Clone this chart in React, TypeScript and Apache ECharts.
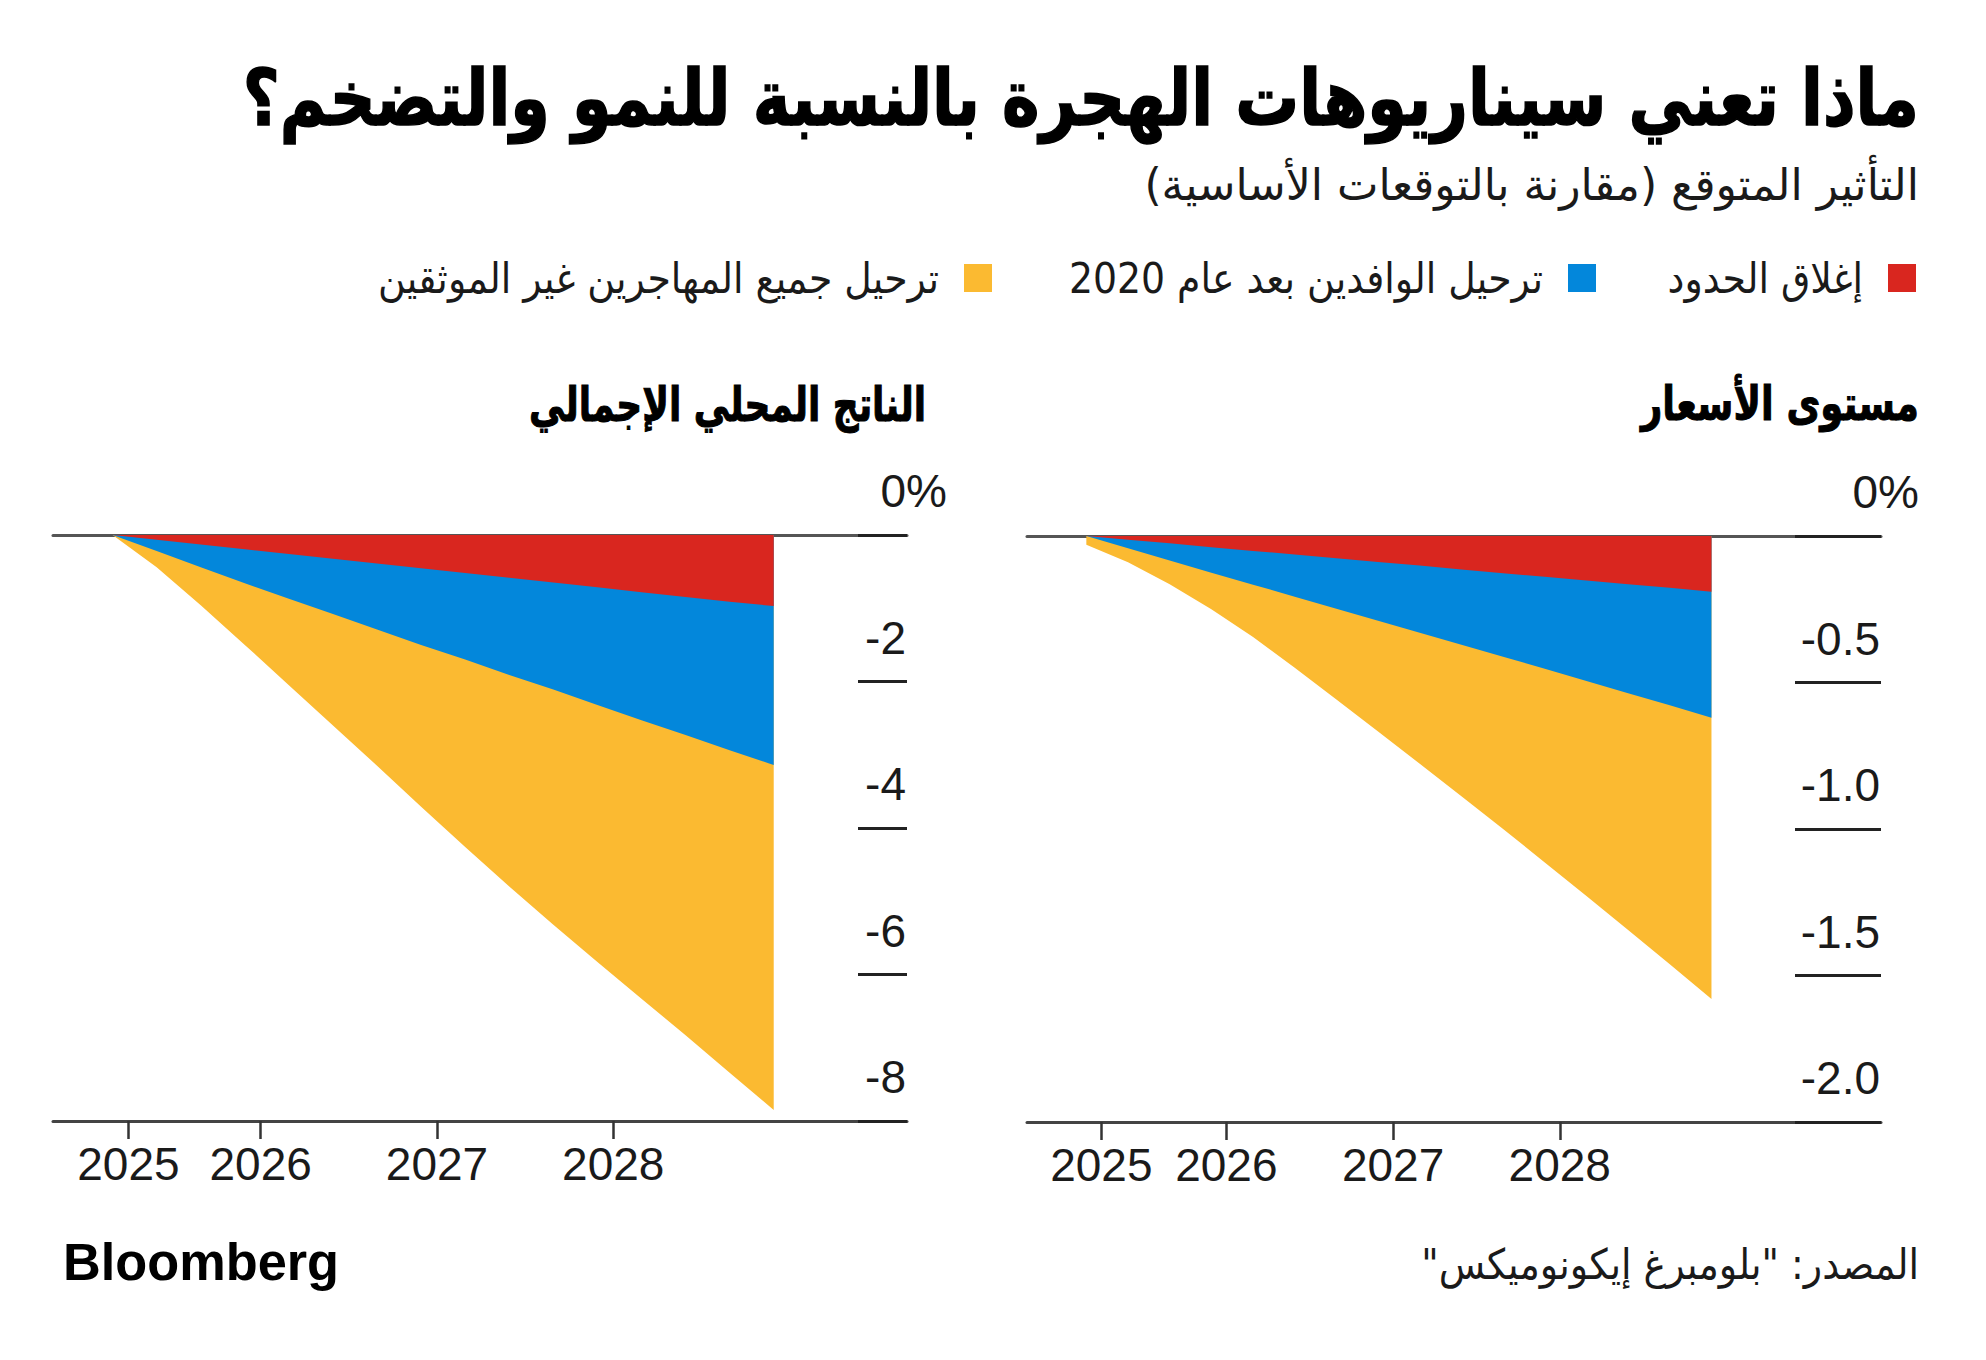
import React, { useEffect, useRef } from 'react';
import * as echarts from 'echarts';

// ---------- data ----------
// x positions (decimal years) of the quarterly points, 2025 Q1 .. 2028 Q4
const X_POS = [
  2025.16, 2025.41, 2025.66, 2025.91,
  2026.16, 2026.41, 2026.66, 2026.91,
  2027.16, 2027.41, 2027.66, 2027.91,
  2028.16, 2028.41, 2028.66, 2028.91,
];
const YEAR_TICKS = [2025.25, 2026, 2027, 2028];

const NAME_BORDER = 'إغلاق الحدود';
const NAME_POST2020 = 'ترحيل الوافدين بعد عام 2020';
const NAME_ALL = 'ترحيل جميع المهاجرين غير الموثقين';

// GDP impact (% vs baseline)
const GDP_BORDER = [0, -0.065, -0.13, -0.195, -0.26, -0.325, -0.39, -0.455, -0.52, -0.585, -0.65, -0.715, -0.78, -0.845, -0.91, -0.97];
const GDP_POST2020 = [0, -0.22, -0.44, -0.66, -0.87, -1.08, -1.29, -1.5, -1.7, -1.91, -2.11, -2.32, -2.53, -2.73, -2.94, -3.14];
const GDP_ALL = [0, -0.44, -0.96, -1.5, -2.05, -2.6, -3.15, -3.71, -4.26, -4.8, -5.32, -5.83, -6.33, -6.83, -7.34, -7.85];

// Price level impact (% vs baseline)
const PRICE_BORDER = [0, -0.013, -0.025, -0.038, -0.051, -0.063, -0.076, -0.089, -0.101, -0.114, -0.127, -0.139, -0.152, -0.165, -0.177, -0.19];
const PRICE_POST2020 = [0, -0.042, -0.084, -0.125, -0.166, -0.207, -0.248, -0.289, -0.33, -0.371, -0.412, -0.453, -0.495, -0.537, -0.578, -0.62];
const PRICE_ALL = [-0.03, -0.09, -0.165, -0.25, -0.345, -0.45, -0.558, -0.667, -0.777, -0.888, -1.0, -1.114, -1.229, -1.345, -1.462, -1.58];

const TITLE = 'ماذا تعني سيناريوهات الهجرة بالنسبة للنمو والتضخم؟';
const SUBTITLE = 'التأثير المتوقع (مقارنة بالتوقعات الأساسية)';
const GDP_TITLE = 'الناتج المحلي الإجمالي';
const PRICE_TITLE = 'مستوى الأسعار';
const SOURCE = 'المصدر: "بلومبرغ إيكونوميكس"';
const LOGO = 'Bloomberg';

// ---------- styles ----------
const RED = '#d9261f';
const BLUE = '#0387db';
const YELLOW = '#fbba31';
const AR = "'DejaVu Sans Condensed', 'DejaVu Sans', sans-serif";
const NUM = "'Liberation Sans', Arial, sans-serif";
const RLM = '\u200F';

function fitScale(text: string, font: string, target: number): number {
  const ctx = document.createElement('canvas').getContext('2d');
  if (!ctx) return 1;
  ctx.font = font;
  const w = ctx.measureText(text).width;
  return w > 0 ? target / w : 1;
}

function arText(text: string, x: number, y: number, size: number, bold: boolean, target: number, color = '#111', stroke = 0) {
  const t = RLM + text + RLM;
  const font = `${bold ? 'bold ' : ''}${size}px ${AR}`;
  return {
    type: 'text',
    x,
    y,
    scaleX: fitScale(t, font, target),
    style: {
      text: t,
      fontSize: size,
      fontWeight: bold ? 'bold' : 'normal',
      fontFamily: AR,
      fill: color,
      stroke: stroke > 0 ? color : undefined,
      lineWidth: stroke,
      align: 'right',
      verticalAlign: 'middle',
    },
  };
}

function pairs(vals: number[]) {
  return X_POS.map((x, i) => [x, vals[i]]);
}

function areaSeries(name: string, vals: number[], color: string, xi: number, yi: number, z: number) {
  return {
    type: 'line',
    name,
    xAxisIndex: xi,
    yAxisIndex: yi,
    data: pairs(vals),
    showSymbol: false,
    symbol: 'none',
    lineStyle: { width: 0, color },
    itemStyle: { color },
    areaStyle: { color, opacity: 1 },
    z,
    silent: true,
  };
}

function bottomX(gridIndex: number, min: number, max: number) {
  return {
    type: 'value',
    gridIndex,
    min,
    max,
    position: 'bottom',
    axisLine: { show: true, onZero: false, lineStyle: { color: '#444', width: 3 } },
    axisTick: { show: true, customValues: YEAR_TICKS, length: 18, lineStyle: { color: '#333', width: 2.5 } },
    axisLabel: {
      show: true,
      customValues: YEAR_TICKS,
      formatter: (v: number) => String(Math.floor(v)),
      margin: 20,
      fontFamily: NUM,
      fontSize: 46,
      color: '#1a1a1a',
    },
    splitLine: { show: false },
  };
}

function topX(gridIndex: number, min: number, max: number) {
  return {
    type: 'value',
    gridIndex,
    min,
    max,
    position: 'top',
    axisLine: { show: true, onZero: false, lineStyle: { color: '#555', width: 3 } },
    axisTick: { show: false },
    axisLabel: { show: false },
    splitLine: { show: false },
  };
}

function mainY(gridIndex: number, min: number, interval: number, tickLen: number, fmt: (v: number) => string) {
  return {
    type: 'value',
    gridIndex,
    min,
    max: 0,
    interval,
    position: 'right',
    axisLine: { show: false },
    axisTick: { show: true, inside: true, length: tickLen, lineStyle: { color: '#222', width: 3 } },
    axisLabel: {
      show: true,
      inside: true,
      margin: 1,
      align: 'right',
      verticalAlign: 'bottom',
      lineHeight: 46,
      padding: [0, 0, 21, 0],
      formatter: fmt,
      fontFamily: NUM,
      fontSize: 46,
      color: '#1a1a1a',
    },
    splitLine: { show: false },
  };
}

function zeroLabelY(gridIndex: number, min: number, interval: number, shift: number) {
  return {
    type: 'value',
    gridIndex,
    min,
    max: 0,
    interval,
    position: 'right',
    axisLine: { show: false },
    axisTick: { show: false },
    axisLabel: {
      show: true,
      inside: true,
      margin: -shift,
      align: 'right',
      verticalAlign: 'bottom',
      lineHeight: 46,
      padding: [0, 0, 21, 0],
      formatter: (v: number) => (v === 0 ? '0%' : ''),
      fontFamily: NUM,
      fontSize: 46,
      color: '#1a1a1a',
    },
    splitLine: { show: false },
  };
}

function legendItem(name: string, right: number) {
  return {
    data: [name],
    right,
    top: 257,
    padding: 0,
    orient: 'horizontal',
    icon: 'rect',
    itemWidth: 28,
    itemHeight: 28,
    align: 'right',
    selectedMode: false,
    textStyle: { fontFamily: AR, fontSize: 42, color: '#1a1a1a', padding: [0, 20, 0, 0] },
  };
}

export default function App() {
  const ref = useRef<HTMLDivElement>(null);
  useEffect(() => {
    if (!ref.current) return;
    const chart = echarts.init(ref.current, null, { renderer: 'svg' });
    const option: any = {
      animation: false,
      backgroundColor: '#ffffff',
      grid: [
        { left: 53, top: 535, width: 854, height: 586, outerBoundsMode: 'none', containLabel: false },
        { left: 1027, top: 536, width: 854, height: 586, outerBoundsMode: 'none', containLabel: false },
      ],
      xAxis: [
        bottomX(0, 2024.822, 2029.666),
        topX(0, 2024.822, 2029.666),
        bottomX(1, 2024.804, 2029.927),
        topX(1, 2024.804, 2029.927),
      ],
      yAxis: [
        mainY(0, -8, 2, 49, (v: number) => (v === 0 ? '' : String(v))),
        zeroLabelY(0, -8, 2, 40),
        mainY(1, -2, 0.5, 86, (v: number) => (v === 0 ? '' : v.toFixed(1))),
        zeroLabelY(1, -2, 0.5, 38),
      ],
      legend: [
        legendItem(NAME_BORDER, 70),
        legendItem(NAME_POST2020, 390),
        legendItem(NAME_ALL, 994),
      ],
      series: [
        areaSeries(NAME_ALL, GDP_ALL, YELLOW, 0, 0, 1),
        areaSeries(NAME_POST2020, GDP_POST2020, BLUE, 0, 0, 2),
        areaSeries(NAME_BORDER, GDP_BORDER, RED, 0, 0, 3),
        areaSeries(NAME_ALL, PRICE_ALL, YELLOW, 2, 2, 1),
        areaSeries(NAME_POST2020, PRICE_POST2020, BLUE, 2, 2, 2),
        areaSeries(NAME_BORDER, PRICE_BORDER, RED, 2, 2, 3),
      ],
      graphic: [
        arText(TITLE, 1919, 98, 78, true, 1676, '#000', 1.5),
        arText(SUBTITLE, 1919, 185, 44, false, 775, '#1a1a1a'),
        arText(GDP_TITLE, 926, 404, 48, true, 397, '#000', 1),
        arText(PRICE_TITLE, 1919, 404, 48, true, 278, '#000', 1),
        arText(SOURCE, 1919, 1265, 42, false, 498, '#1a1a1a'),
        {
          type: 'text',
          x: 63,
          y: 1262,
          scaleX: fitScale(LOGO, `bold 52px ${NUM}`, 276),
          style: {
            text: LOGO,
            fontSize: 52,
            fontWeight: 'bold',
            fontFamily: NUM,
            fill: '#000',
            align: 'left',
            verticalAlign: 'middle',
          },
        },
      ],
    };
    chart.setOption(option);
    return () => chart.dispose();
  }, []);
  return <div ref={ref} style={{ position: 'fixed', left: 0, top: 0, width: 1986, height: 1360 }} />;
}
